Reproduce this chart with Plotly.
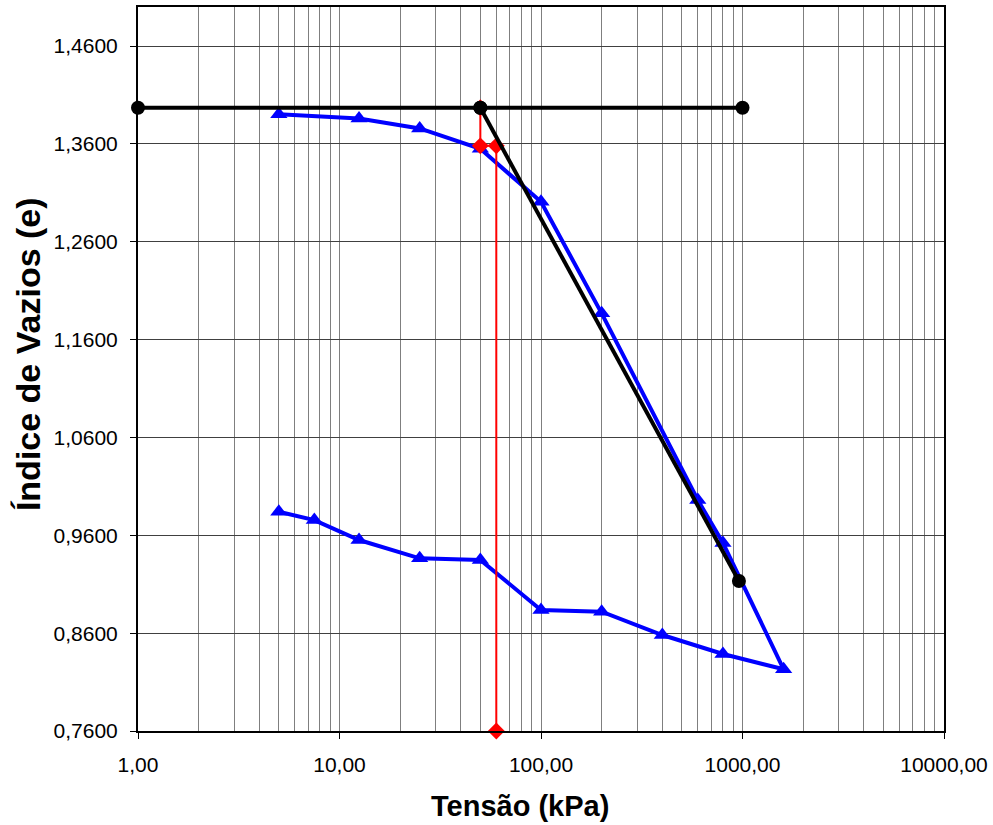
import plotly.graph_objects as go

# Curva de adensamento (carregamento + descarregamento)
tensao = [5, 12.5, 25, 50, 100, 200, 600, 800, 1600, 800, 400, 200, 100, 50, 25, 12.5, 7.5, 5]
indice_vazios = [1.3905, 1.3861, 1.3759, 1.3550, 1.3009, 1.1869, 0.9961, 0.9521, 0.8231,
                 0.8387, 0.8581, 0.8819, 0.8837, 0.9348, 0.9365, 0.9552, 0.9756, 0.9841]

# Construção de Casagrande (retas pretas)
reta_h_x = [1, 50, 1000]
reta_h_e = [1.397, 1.397, 1.397]
reta_v_x = [50, 960]
reta_v_e = [1.397, 0.9133]

# Tensão de pré-adensamento (vermelho)
pre_x = [50, 50, 60, 60]
pre_e = [1.397, 1.3581, 1.3581, 0.76]

x_ticks = [1, 10, 100, 1000, 10000]
y_ticks = [0.76, 0.86, 0.96, 1.06, 1.16, 1.26, 1.36, 1.46]

FONT = "Liberation Sans, Arial, sans-serif"

fig = go.Figure()
fig.add_trace(go.Scatter(x=tensao, y=indice_vazios, mode="lines+markers",
                         line=dict(color="#0000FF", width=4),
                         marker=dict(symbol="triangle-up", size=15, color="#0000FF"),
                         showlegend=False))
fig.add_trace(go.Scatter(x=pre_x, y=pre_e, mode="lines+markers",
                         line=dict(color="#FF0000", width=2),
                         marker=dict(symbol="diamond", size=13, color="#FF0000"),
                         showlegend=False, cliponaxis=False))
fig.add_trace(go.Scatter(x=reta_h_x, y=reta_h_e, mode="lines+markers",
                         line=dict(color="black", width=4),
                         marker=dict(symbol="circle", size=14, color="black"),
                         showlegend=False, cliponaxis=False))
fig.add_trace(go.Scatter(x=reta_v_x, y=reta_v_e, mode="lines+markers",
                         line=dict(color="black", width=4),
                         marker=dict(symbol="circle", size=14, color="black"),
                         showlegend=False))

fig.update_layout(
    width=993, height=825,
    margin=dict(l=138, r=47, t=5, b=94),
    paper_bgcolor="white", plot_bgcolor="white",
    separators=",.",
    font=dict(family=FONT, size=21, color="black"),
    xaxis=dict(type="log", range=[0, 4], tickvals=x_ticks, tickformat=".2f",
               showline=True, linecolor="black", linewidth=2, mirror=True,
               ticks="outside", ticklen=6, tickcolor="black",
               showgrid=True, gridcolor="#7f7f7f", gridwidth=1,
               minor=dict(dtick="D1", showgrid=True, gridcolor="#7f7f7f", gridwidth=1, ticklen=0),
               zeroline=False, ticklabelstandoff=8),
    yaxis=dict(range=[0.76, 1.50], tickvals=y_ticks, tickformat=".4f",
               showline=True, linecolor="black", linewidth=2, mirror=True,
               ticks="outside", ticklen=6, tickcolor="black",
               showgrid=True, gridcolor="#404040", gridwidth=1,
               zeroline=False, ticklabelstandoff=8),
    annotations=[
        dict(text="<b>Tensão (kPa)</b>", xref="paper", yref="paper", x=0.474, y=-0.103,
             xanchor="center", yanchor="middle", showarrow=False,
             font=dict(family=FONT, size=29)),
        dict(text="<b>Índice de Vazios (e)</b>", xref="paper", yref="paper", x=-0.137, y=0.52,
             xanchor="center", yanchor="middle", showarrow=False, textangle=-90,
             font=dict(family=FONT, size=34)),
    ],
)

fig.write_html("out.html", config={"displayModeBar": False},
               post_script="document.body.style.margin='0';")
